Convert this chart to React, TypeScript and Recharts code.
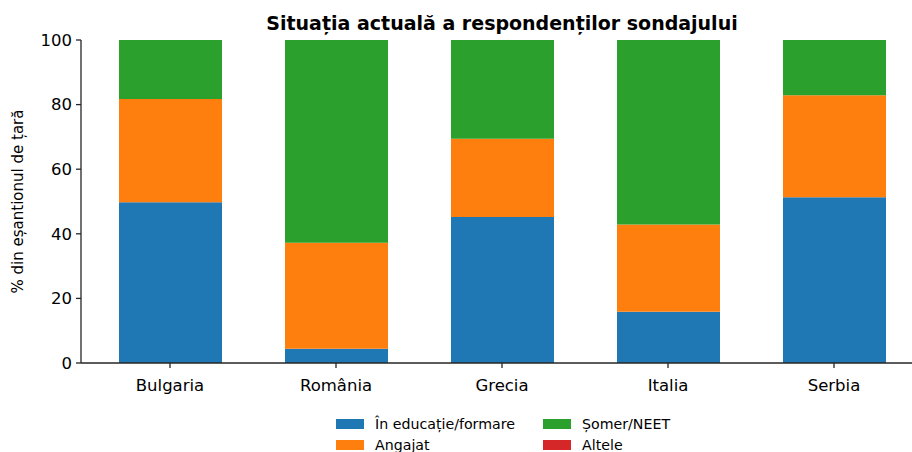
import { BarChart, Bar, XAxis, YAxis } from 'recharts';

const countries = ['Bulgaria', 'România', 'Grecia', 'Italia', 'Serbia'];
const education = [49.8, 4.4, 45.2, 15.9, 51.3];
const employed = [31.9, 32.8, 24.2, 27.0, 31.6];
const neet = [18.3, 62.8, 30.6, 57.1, 17.1];
const other = [0, 0, 0, 0, 0];
const yTicks = [0, 20, 40, 60, 80, 100];

const series = [
  { key: 'education', name: 'În educație/formare', color: '#1f77b4' },
  { key: 'employed', name: 'Angajat', color: '#ff7f0e' },
  { key: 'neet', name: 'Șomer/NEET', color: '#2ca02c' },
  { key: 'other', name: 'Altele', color: '#d62728' },
];

const data = countries.map((country, i) => ({
  country,
  education: education[i],
  employed: employed[i],
  neet: neet[i],
  other: other[i],
}));

const font = '"DejaVu Sans", sans-serif';
const axisColor = '#262626';

export default function App() {
  // legend goes column by column, two rows
  const legendCols = [series.slice(0, 2), series.slice(2, 4)];
  const colLeft = [336, 543];

  return (
    <div style={{ position: 'absolute', left: 0, top: 0, width: 912, height: 452, overflow: 'hidden', background: '#fff', fontFamily: font }}>
      <div
        style={{
          position: 'absolute',
          left: 502,
          top: 12,
          transform: 'translateX(-50%)',
          whiteSpace: 'nowrap',
          fontSize: 19,
          fontWeight: 'bold',
          color: '#000',
        }}
      >
        Situația actuală a respondenților sondajului
      </div>

      <BarChart width={920} height={452} data={data} margin={{ top: 40, right: 0, bottom: 0, left: 0 }}>
        <XAxis
          dataKey="country"
          height={89}
          padding={{ left: 6, right: 3 }}
          tick={{ fill: '#000', fontSize: 16.5, fontFamily: font }}
          tickSize={5}
          tickMargin={11}
          axisLine={{ stroke: axisColor, strokeWidth: 1.3 }}
          tickLine={{ stroke: axisColor, strokeWidth: 1.3 }}
        />
        <YAxis
          width={81}
          domain={[0, 100]}
          ticks={yTicks}
          tick={{ fill: '#000', fontSize: 16.5, fontFamily: font }}
          tickSize={5}
          tickMargin={4}
          axisLine={{ stroke: axisColor, strokeWidth: 1.3 }}
          tickLine={{ stroke: axisColor, strokeWidth: 1.3 }}
          label={{
            value: '% din eșantionul de țară',
            angle: -90,
            position: 'center',
            dx: -23,
            style: { fill: '#000', fontSize: 15, fontFamily: font, textAnchor: 'middle' },
          }}
        />
        {series.map(s => (
          <Bar key={s.key} dataKey={s.key} name={s.name} stackId="a" fill={s.color} barSize={103} isAnimationActive={false} />
        ))}
      </BarChart>

      {legendCols.map((col, c) =>
        col.map((s, r) => (
          <div
            key={s.key}
            style={{ position: 'absolute', left: colLeft[c], top: 414 + r * 21, display: 'flex', alignItems: 'center', height: 20 }}
          >
            <span style={{ width: 28, height: 10, background: s.color, display: 'inline-block' }} />
            <span style={{ marginLeft: 11, fontSize: 14.2, color: '#000', whiteSpace: 'nowrap' }}>{s.name}</span>
          </div>
        ))
      )}
    </div>
  );
}
